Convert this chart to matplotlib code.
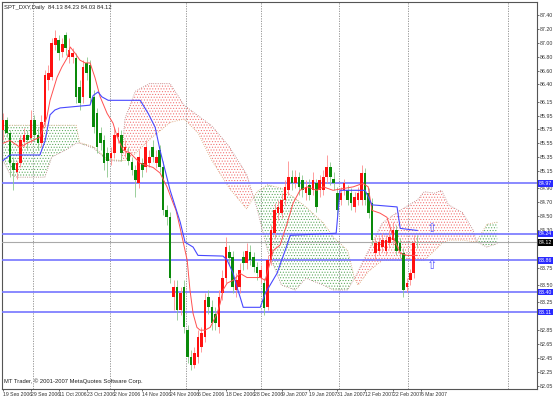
import numpy as np
import matplotlib.pyplot as plt
from matplotlib.transforms import blended_transform_factory

# daily candles, 19 Sep 2006 .. 6 Mar 2007
opens = [85.74, 85.88, 85.70, 85.26, 85.13, 85.26, 85.57, 85.67, 85.62, 85.88,
         85.67, 85.55, 85.85, 86.46, 86.50, 86.97, 87.04, 86.87, 87.11, 86.79,
         86.79, 86.78, 86.36, 86.22, 86.71, 86.68, 86.22, 85.98, 85.70, 85.59,
         85.41, 85.33, 85.41, 85.64, 85.67, 85.45, 85.41, 85.28, 85.16, 84.97,
         85.26, 85.20, 85.26, 85.49, 85.26, 85.45, 85.20, 84.58, 84.48, 83.33,
         83.47, 83.14, 83.47, 82.85, 82.46, 82.34, 82.46, 82.60, 82.75, 83.33,
         83.18, 83.09, 82.89, 83.38, 83.61, 83.98, 83.90, 83.43, 83.47, 83.90,
         83.82, 83.98, 83.90, 83.76, 83.61, 83.53, 83.18, 83.86, 84.25, 84.54,
         84.54, 84.73, 84.87, 85.06, 84.97, 85.06, 85.02, 84.83, 84.95, 84.87,
         84.97, 84.87, 84.87, 85.06, 85.20, 85.04, 84.83, 84.73, 84.87, 84.87,
         84.83, 84.63, 84.73, 84.73, 85.12, 84.83, 84.68, 83.96, 84.00, 84.05,
         84.00, 84.11, 84.15, 84.29, 84.11, 83.96, 83.47, 83.57, 83.67, 84.13]
highs = [85.98, 85.93, 85.74, 85.35, 85.30, 85.67, 85.77, 85.74, 86.03, 85.96,
         85.77, 85.96, 86.61, 86.68, 87.07, 87.18, 87.11, 87.07, 87.16, 87.07,
         86.92, 86.85, 86.46, 86.75, 86.79, 86.75, 86.32, 86.06, 85.78, 85.67,
         85.49, 85.49, 85.77, 85.78, 85.74, 85.59, 85.49, 85.35, 85.23, 85.45,
         85.33, 85.59, 85.45, 85.59, 85.45, 85.52, 85.30, 84.66, 84.55, 83.57,
         83.57, 83.47, 83.57, 82.92, 82.56, 82.60, 82.85, 82.89, 83.38, 83.43,
         83.28, 83.18, 83.43, 83.72, 84.19, 84.08, 84.00, 83.67, 83.82, 84.00,
         84.11, 84.08, 83.98, 83.83, 83.79, 83.60, 83.93, 84.37, 84.68, 84.73,
         84.83, 85.02, 85.30, 85.16, 85.16, 85.13, 85.09, 85.02, 85.04, 85.13,
         85.04, 85.09, 85.16, 85.38, 85.28, 85.13, 84.92, 84.92, 85.04, 84.94,
         84.90, 84.84, 84.92, 85.23, 85.19, 84.90, 84.76, 84.18, 84.19, 84.25,
         84.22, 84.29, 84.41, 84.37, 84.18, 84.03, 83.60, 83.74, 84.23, 84.23]
lows = [85.59, 85.64, 85.06, 84.87, 85.04, 85.20, 85.49, 85.45, 85.55, 85.59,
        85.45, 85.49, 85.78, 86.32, 86.46, 86.89, 86.75, 86.79, 86.82, 86.71,
        86.71, 86.13, 86.03, 86.13, 86.46, 86.13, 85.70, 85.41, 85.45, 85.16,
        85.06, 85.23, 85.33, 85.55, 85.30, 85.35, 85.23, 85.09, 84.77, 84.90,
        85.06, 85.13, 85.20, 85.28, 85.19, 85.13, 84.51, 84.37, 83.53, 83.14,
        82.99, 83.07, 82.81, 82.37, 82.27, 82.30, 82.38, 82.53, 82.68, 83.09,
        82.85, 82.85, 82.81, 83.28, 83.53, 83.79, 83.38, 83.33, 83.38, 83.72,
        83.74, 83.79, 83.69, 83.57, 83.53, 83.07, 83.14, 83.79, 84.18, 84.44,
        84.47, 84.66, 84.80, 84.87, 84.90, 84.80, 84.77, 84.73, 84.73, 84.80,
        84.56, 84.77, 84.80, 84.98, 84.94, 84.87, 84.51, 84.66, 84.80, 84.66,
        84.58, 84.55, 84.66, 84.66, 84.66, 84.47, 84.08, 83.86, 83.93, 83.98,
        83.93, 84.03, 84.08, 83.93, 83.89, 83.33, 83.40, 83.50, 83.60, 84.03]
closes = [85.88, 85.70, 85.26, 85.16, 85.26, 85.59, 85.67, 85.59, 85.88, 85.67,
          85.55, 85.85, 86.53, 86.56, 87.00, 87.07, 86.85, 86.98, 86.92, 86.89,
          86.85, 86.22, 86.13, 86.65, 86.56, 86.20, 85.78, 85.49, 85.55, 85.26,
          85.30, 85.41, 85.67, 85.70, 85.41, 85.49, 85.30, 85.16, 85.02, 85.35,
          85.16, 85.49, 85.35, 85.35, 85.35, 85.20, 84.58, 84.48, 83.61, 83.47,
          83.14, 83.38, 82.89, 82.46, 82.34, 82.52, 82.75, 82.81, 83.28, 83.18,
          82.95, 82.95, 83.33, 83.61, 84.05, 83.89, 83.47, 83.57, 83.72, 83.82,
          84.00, 83.86, 83.76, 83.67, 83.72, 83.17, 83.86, 84.29, 84.58, 84.63,
          84.73, 84.92, 85.06, 84.97, 85.06, 84.92, 84.87, 84.92, 84.80, 85.02,
          84.63, 85.02, 85.06, 85.20, 85.06, 84.97, 84.58, 84.83, 84.97, 84.73,
          84.68, 84.77, 84.83, 85.12, 84.73, 84.54, 84.15, 84.11, 84.12, 84.15,
          84.15, 84.19, 84.29, 84.00, 84.00, 83.43, 83.53, 83.67, 84.11, 84.12]

# Tenkan-sen (red) and Kijun-sen (blue), read as vertices
tenkan_bars = [0, 2.0, 4.9, 6.9, 8.6, 10.6, 12.6, 13.5, 15.5, 16.9, 18.4, 19.3, 20.7,
               22.1, 23.6, 25, 26.4, 27.9, 29.9, 31.6, 32.8, 34.5, 36.5, 39.4, 43.1,
               45.1, 47.1, 48.9, 49.7, 50.9, 52.9, 53.7, 54.6, 55.7, 56.6, 58, 59.5,
               61.5, 62.4, 63.2, 64.4, 66.1, 68.1, 70.1, 73.9, 75.3, 76.7, 77.6, 79.6,
               81.6, 83.3, 85.3, 87.4, 90.2, 92, 94.8, 100.6, 103.4, 104.9, 106, 108.3,
               110.3, 112.1, 114.1, 116.1, 119]
tenkan = [85.55, 85.59, 85.49, 85.55, 85.59, 85.64, 85.93, 86.17, 86.50, 86.65, 86.78,
          86.94, 86.85, 86.75, 86.71, 86.71, 86.50, 86.22, 85.98, 85.84, 85.64, 85.45,
          85.41, 85.26, 85.20, 85.12, 84.92, 84.68, 84.58, 84.32, 83.86, 83.43, 83.09,
          82.89, 82.85, 82.85, 82.89, 83.09, 83.24, 83.43, 83.53, 83.57, 83.67, 83.61,
          83.61, 83.57, 83.82, 84.00, 84.08, 84.39, 84.68, 84.87, 84.92, 84.87, 84.92,
          84.87, 84.92, 84.97, 84.92, 84.58, 84.54, 84.48, 84.19, 83.96, 83.93, 83.93]
kijun_bars = [0, 2, 10.6, 12.1, 13.5, 14.9, 16.4, 25, 25.9, 27.3, 28.4, 30.2, 39.4,
              41.7, 43.7, 45.1, 48, 50.9, 52.3, 54.6, 56, 63.2, 64.4, 66.1, 67.2, 68.1,
              69, 73.9, 75.3, 78.7, 81.6, 82.5, 95.7, 96.8, 104, 106, 113.2, 114.1, 119]
kijun = [85.30, 85.38, 85.38, 85.59, 85.96, 86.03, 86.06, 86.10, 86.24, 86.29, 86.22,
         86.17, 86.17, 85.98, 85.78, 85.45, 84.87, 84.41, 84.12, 84.05, 83.93, 83.92,
         83.86, 83.67, 83.47, 83.33, 83.18, 83.18, 83.38, 83.67, 84.08, 84.22, 84.25,
         84.87, 84.87, 84.66, 84.63, 84.32, 84.29]

# Senkou span A / B (cloud), read as vertices
cloud_bars = [0, 2, 4, 12, 14, 18, 21, 22, 26, 30, 34, 35, 38, 42, 48, 52, 56, 60, 65,
              70, 73, 76, 80, 84, 87, 92, 95, 99, 101, 102, 105, 109, 114, 119, 121,
              124, 126, 128, 132, 135, 136, 139, 142]
span_a = [85.81, 85.81, 85.81, 85.81, 85.81, 85.81, 85.81, 85.56, 85.50, 85.32, 85.30,
          85.30, 85.40, 85.60, 85.85, 85.90, 85.70, 85.30, 84.90, 84.60, 84.85, 84.95,
          84.90, 84.75, 84.63, 84.40, 84.19, 84.00, 83.60, 83.50, 83.70, 83.86, 83.86,
          83.86, 83.86, 84.00, 84.10, 84.15, 84.15, 84.13, 84.13, 84.38, 84.41]
span_b = [85.30, 85.10, 85.06, 85.06, 85.35, 85.45, 85.55, 85.55, 85.48, 85.30, 85.29,
          85.90, 86.30, 86.41, 86.41, 86.10, 85.95, 85.80, 85.50, 85.10, 84.60, 84.00,
          83.50, 83.43, 83.60, 83.50, 83.43, 83.43, 83.60, 83.70, 84.00, 84.40, 84.58,
          84.73, 84.85, 84.83, 84.87, 84.66, 84.55, 84.30, 84.13, 84.05, 84.10]

level_lines = [84.97, 84.24, 83.86, 83.40, 83.11]
last_price = 84.12
arrow_bars = [123.3, 123.3]
arrow_prices = [84.32, 83.79]

price_ticks = [87.40, 87.20, 87.00, 86.80, 86.60, 86.40, 86.15, 85.95, 85.75, 85.55,
               85.35, 85.15, 84.90, 84.70, 84.50, 84.30, 83.75, 83.50,
               83.25, 82.85, 82.65, 82.45, 82.25, 82.05]
date_bars = list(range(0, 121, 8))
date_labels = ['19 Sep 2006', '29 Sep 2006', '11 Oct 2006', '23 Oct 2006', '2 Nov 2006',
               '14 Nov 2006', '24 Nov 2006', '6 Dec 2006', '18 Dec 2006', '28 Dec 2006',
               '9 Jan 2007', '19 Jan 2007', '31 Jan 2007', '12 Feb 2007', '22 Feb 2007',
               '6 Mar 2007']
month_bars = [8.6, 30.7, 52.6, 74.2, 96.6, 116.4, 145]

plt.rcParams['font.family'] = ['Liberation Sans', 'DejaVu Sans']
plt.rcParams['hatch.linewidth'] = 0.45
fig = plt.figure(figsize=(5.53, 3.96), dpi=100)
ax = fig.add_axes([2 / 553, 7 / 396, 535 / 553, 387 / 396])
ax.set_xlim(-0.3, 153.4)
ax.set_ylim(82.00, 87.59)

# cloud
cb = np.array(cloud_bars, dtype=float)
sa = np.array(span_a)
sb = np.array(span_b)
ax.fill_between(cb, sa, sb, where=sa >= sb, interpolate=True, facecolor='none',
                edgecolor='#58a858', hatch='......', linewidth=0, zorder=1)
ax.fill_between(cb, sa, sb, where=sa < sb, interpolate=True, facecolor='none',
                edgecolor='#f27070', hatch='......', linewidth=0, zorder=1)
ax.plot(cb, sa, color='#d8a070', lw=0.6, ls=':', zorder=2)
ax.plot(cb, sb, color='#b88080', lw=0.6, ls=':', zorder=2)

# month grid
for m in month_bars:
    ax.axvline(m, color='#8a8a8a', lw=0.6, ls=(0, (1.5, 1.5)), zorder=0)

# level lines
for lv in level_lines:
    ax.axhline(lv, color='#7676ff', lw=1.2, zorder=3)
ax.axhline(last_price, color='#aaaaaa', lw=0.8, zorder=3)

# candles
for i in range(len(closes)):
    o, h, l, c = opens[i], highs[i], lows[i], closes[i]
    up = c >= o
    wick = '#ff8c8c' if up else '#8cc88c'
    body = '#ff1010' if up else '#0a8a0a'
    ax.vlines(i, l, h, color=wick, lw=0.6, zorder=4)
    ax.bar(i, max(abs(c - o), 0.01), bottom=min(o, c), width=0.75, color=body,
           linewidth=0, zorder=5)

ax.plot(tenkan_bars, tenkan, color='#ff5050', lw=0.7, zorder=6)
ax.plot(kijun_bars, kijun, color='#4848ff', lw=0.8, zorder=6)

for xb, yp in zip(arrow_bars, arrow_prices):
    ax.text(xb, yp, '\u21e7', color='#5a5aff', fontsize=9, ha='center', va='center',
            family='DejaVu Sans', zorder=7)

# axes styling
for s in ax.spines.values():
    s.set_color('#555555')
    s.set_linewidth(0.8)
ax.yaxis.tick_right()
ax.set_yticks(price_ticks)
ax.set_yticklabels([f'{p:.2f}' for p in price_ticks])
ax.tick_params(axis='y', length=1.5, width=0.5, pad=0.8, labelsize=3.8, colors='#333333')
ax.set_xticks(date_bars)
ax.set_xticklabels(date_labels, ha='left')
ax.tick_params(axis='x', length=1.5, width=0.5, pad=0.8, labelsize=3.7, colors='#333333')

tr = blended_transform_factory(ax.transAxes, ax.transData)
for lv in level_lines:
    ax.text(1.003, lv, f'{lv:.2f}', transform=tr, fontsize=3.8, color='white',
            va='center', ha='left', clip_on=False, zorder=10,
            bbox=dict(boxstyle='square,pad=0.15', fc='#2a2aff', ec='none'))
ax.text(1.003, last_price, f'{last_price:.2f}', transform=tr, fontsize=3.8,
        color='white', va='center', ha='left', clip_on=False, zorder=10,
        bbox=dict(boxstyle='square,pad=0.15', fc='#000000', ec='none'))

ax.text(0.003, 0.992, 'SPT_DXY,Daily  84.13 84.23 84.03 84.12', transform=ax.transAxes,
        fontsize=4.2, va='top', ha='left', color='#222222')
ax.text(0.003, 0.012, 'MT Trader, \u00a9 2001-2007 MetaQuotes Software Corp.',
        transform=ax.transAxes, fontsize=4.2, va='bottom', ha='left', color='#222222')

fig.savefig('out.png', dpi=100)
